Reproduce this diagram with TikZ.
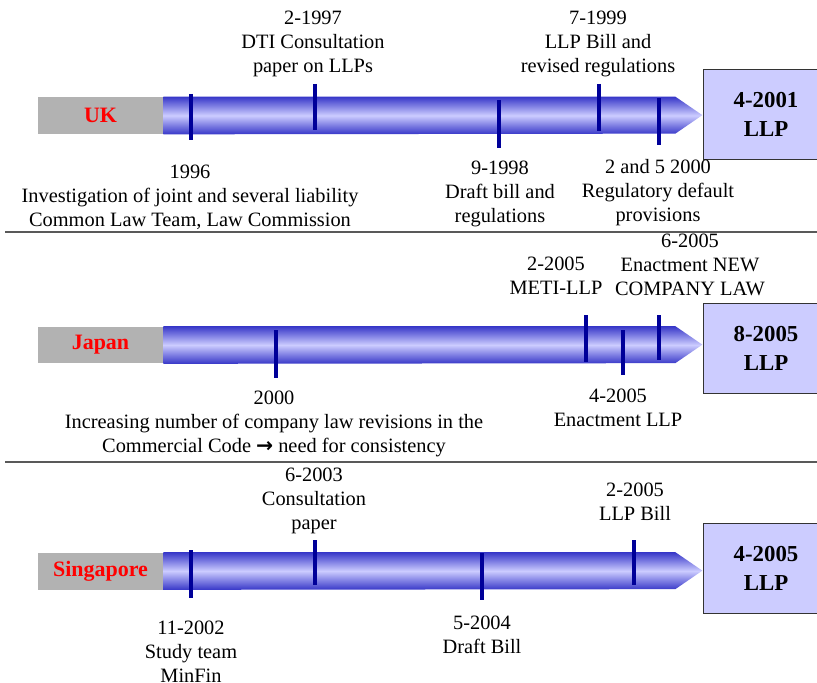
\documentclass[tikz,border=0pt]{standalone}
\usepackage{fontspec}
\setmainfont{Liberation Serif}
\newfontfamily\arrowfont{DejaVu Sans}
\definecolor{pipedark}{HTML}{3636C8}
\definecolor{pipelight}{HTML}{CCCCFF}
\definecolor{tickblue}{HTML}{000099}
\definecolor{boxfill}{HTML}{CCCCFF}
\definecolor{labelgray}{HTML}{B2B2B2}
\tikzset{
  country/.style={fill=labelgray, minimum width=2.5cm, minimum height=0.74cm, inner sep=0pt,
    text=red, font=\fontsize{12.5}{15}\selectfont\bfseries},
  result/.style={draw=black!80, fill=boxfill, minimum width=2.52cm, minimum height=1.8cm,
    align=center, inner sep=0pt, font=\fontsize{13}{16.4}\selectfont\bfseries},
  event/.style={anchor=north, align=center, inner sep=0pt, font=\fontsize{11.6}{13.6}\selectfont},
  pipe/.style={top color=pipedark, bottom color=pipedark, middle color=pipelight},
  datetick/.style={draw=tickblue, line width=0.08cm},
  divider/.style={draw=black!65, line width=0.03cm}
}
\begin{document}
\begin{tikzpicture}[x=0.02cm, y=-0.02cm]
\useasboundingbox (0,0) rectangle (817,682);
\clip (0,0) rectangle (817,682);

% UK
\node[country] (uk) at (100.5,115.5) {UK};
\shade[pipe] (uk.north east) -- ++(512,0) -- ++(27,18.5) -- ++(-27,18.5) -- (uk.south east) -- cycle;
\foreach \x/\a/\b in {191/94/140, 315/84/130, 499/100/148, 599/84/131, 659/98/145}
  \draw[datetick] (\x,\a) -- (\x,\b);
\node[result] (ukllp) at (766,114) {4-2001\\LLP};
\node[event] (uk96) at (190,165) {1996\\Investigation of joint and several liability\\Common Law Team, Law Commission};
\node[event] (uk97) at (313,11) {2-1997\\DTI Consultation\\paper on LLPs};
\node[event] (uk98) at (500,161) {9-1998\\Draft bill and\\regulations};
\node[event] (uk99) at (598,11) {7-1999\\LLP Bill and\\revised regulations};
\node[event] (uk00) at (658,159) {2 and 5 2000\\Regulatory default\\provisions};

\draw[divider] (5,232) -- (817,232);

% Japan
\node[country] (jp) at (100.5,345) {Japan};
\shade[pipe] (jp.north east) -- ++(512,0) -- ++(27,18.5) -- ++(-27,18.5) -- (jp.south east) -- cycle;
\foreach \x/\a/\b in {276/330/378, 586/315/362, 623/330/375, 659/315/360}
  \draw[datetick] (\x,\a) -- (\x,\b);
\node[result] (jpllp) at (766,348) {8-2005\\LLP};
\node[event] (jp00) at (274,391) {2000\\Increasing number of company law revisions in the\\Commercial Code {\arrowfont\bfseries →} need for consistency};
\node[event] (jp05a) at (556,257) {2-2005\\METI-LLP};
\node[event] (jp05b) at (618,389) {4-2005\\Enactment LLP};
\node[event] (jp05c) at (690,234) {6-2005\\Enactment NEW\\COMPANY LAW};

\draw[divider] (5,462) -- (817,462);

% Singapore
\node[country] (sg) at (100.5,571) {Singapore};
\shade[pipe] (sg.north east) -- ++(512,0) -- ++(27,18.5) -- ++(-27,18.5) -- (sg.south east) -- cycle;
\foreach \x/\a/\b in {191/550/598, 315/540/585, 482/553/600, 634/540/585}
  \draw[datetick] (\x,\a) -- (\x,\b);
\node[result] (sgllp) at (766,568.5) {4-2005\\LLP};
\node[event] (sg02) at (191,621) {11-2002\\Study team\\MinFin};
\node[event] (sg03) at (314,468) {6-2003\\Consultation\\paper};
\node[event] (sg04) at (482,616) {5-2004\\Draft Bill};
\node[event] (sg05) at (635,483) {2-2005\\LLP Bill};
\end{tikzpicture}
\end{document}
